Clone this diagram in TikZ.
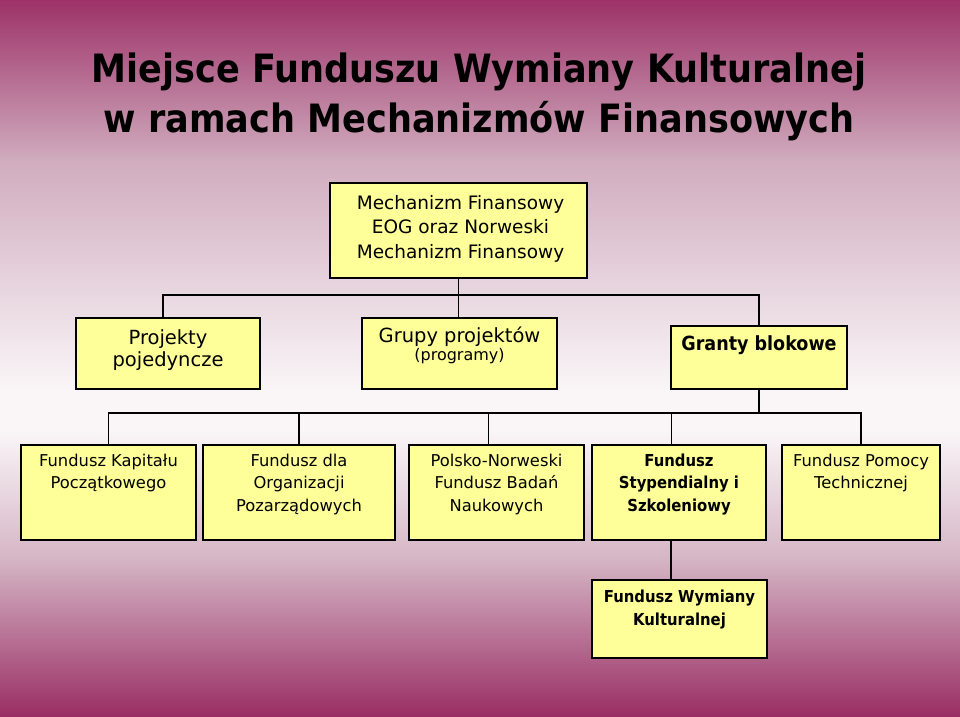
\documentclass[tikz,border=0pt]{standalone}
\usepackage{fontspec}
\setmainfont{DejaVu Sans}
\newfontfamily\condbold{DejaVu Sans Condensed Bold}
\definecolor{magtop}{RGB}{157,50,104}
\definecolor{lightA}{RGB}{208,172,190}
\definecolor{whiteish}{RGB}{250,246,248}
\definecolor{lightB}{RGB}{212,180,196}
\definecolor{magbot}{RGB}{154,46,100}
\definecolor{boxfill}{RGB}{255,255,153}
\newcommand{\firstline}{\rule{0pt}{20pt}}
\tikzset{
  orgbox/.style={draw=black, line width=1.8pt, fill=boxfill, inner sep=0pt, anchor=center},
  boxtext/.style={inner sep=0pt, anchor=north, align=center, font=\fontsize{16.3}{22.5}\selectfont},
  conn/.style={draw=black, line width=1.4pt}
}
\begin{document}
\begin{tikzpicture}[x=1pt,y=-1pt]
% background bands
\useasboundingbox (0,0) rectangle (960,716);
\shade[top color=magtop, bottom color=lightA] (0,0) rectangle (960,161);
\shade[top color=lightA, bottom color=whiteish] (0,160) rectangle (960,391);
\fill[whiteish] (0,390) rectangle (960,431);
\shade[top color=whiteish, bottom color=lightB] (0,430) rectangle (960,561);
\shade[top color=lightB, bottom color=magbot] (0,560) rectangle (960,716);

% title
\node[inner sep=0pt, anchor=north, align=center, font=\fontsize{39}{50}\selectfont\condbold] (title) at (479,42)
  {\rule{0pt}{40pt}Miejsce Funduszu Wymiany Kulturalnej\\w ramach Mechanizmów Finansowych};

% boxes
\node[orgbox, minimum width=257pt, minimum height=95pt] (top) at (458.5,230.5) {};
\node[orgbox, minimum width=184pt, minimum height=71pt] (pp) at (168,353.5) {};
\node[orgbox, minimum width=195pt, minimum height=71pt] (gp) at (459.5,353.5) {};
\node[orgbox, minimum width=176pt, minimum height=63pt] (gb) at (759,357.5) {};
\node[orgbox, minimum width=175pt, minimum height=95pt] (f1) at (108.5,492.5) {};
\node[orgbox, minimum width=192pt, minimum height=95pt] (f2) at (299,492.5) {};
\node[orgbox, minimum width=175pt, minimum height=95pt] (f3) at (496.5,492.5) {};
\node[orgbox, minimum width=174pt, minimum height=95pt] (f4) at (679,492.5) {};
\node[orgbox, minimum width=158pt, minimum height=95pt] (f5) at (861,492.5) {};
\node[orgbox, minimum width=175pt, minimum height=78pt] (wk) at (679.5,619) {};

% box texts
\node[boxtext, font=\fontsize{18.5}{24.5}\selectfont, yshift=-7pt] (top-t) at ([xshift=2pt]top.north)
  {\firstline Mechanizm Finansowy\\EOG oraz Norweski\\Mechanizm Finansowy};
\node[boxtext, font=\fontsize{19.5}{22}\selectfont, yshift=-7pt] (pp-t) at (pp.north)
  {\firstline Projekty\\pojedyncze};
\node[boxtext, font=\fontsize{19.5}{18}\selectfont, yshift=-5pt] (gp-t) at (gp.north)
  {\firstline Grupy projektów\\{\fontsize{16}{18}\selectfont(programy)}};
\node[boxtext, font=\fontsize{19.5}{22}\selectfont\condbold, yshift=-5pt] (gb-t) at (gb.north)
  {\firstline Granty blokowe};
\node[boxtext, yshift=-2pt] (f1-t) at (f1.north) {\firstline Fundusz Kapitału\\Początkowego};
\node[boxtext, yshift=-2pt] (f2-t) at (f2.north) {\firstline Fundusz dla\\Organizacji\\Pozarządowych};
\node[boxtext, yshift=-2pt] (f3-t) at (f3.north) {\firstline Polsko-Norweski\\Fundusz Badań\\Naukowych};
\node[boxtext, font=\fontsize{16.5}{22.5}\selectfont\condbold, yshift=-2pt] (f4-t) at (f4.north) {\firstline Fundusz\\Stypendialny i\\Szkoleniowy};
\node[boxtext, yshift=-2pt] (f5-t) at (f5.north) {\firstline Fundusz Pomocy\\Technicznej};
\node[boxtext, font=\fontsize{16.5}{22.5}\selectfont\condbold, yshift=-3.3pt] (wk-t) at (wk.north) {\firstline Fundusz Wymiany\\Kulturalnej};

% connectors level 1
\coordinate (j1) at (458.5,295);
\draw[conn] (top.south) -- (j1);
\draw[conn] ([xshift=-5pt]pp.north) |- (j1) -| (gb.north);
\draw[conn] (j1) -- (j1 |- gp.north);

% connectors level 2
\coordinate (j2) at (759,413);
\draw[conn] (gb.south) -- (j2);
\draw[conn] (f1.north) |- (j2) -| (f5.north);
\draw[conn] (f2.north) -- (f2.north |- j2);
\draw[conn] ([xshift=-8pt]f3.north) -- ([xshift=-8pt]f3.north |- j2);
\draw[conn] ([xshift=-7.5pt]f4.north) -- ([xshift=-7.5pt]f4.north |- j2);

% connector level 3
\draw[conn] ([xshift=-8pt]f4.south) -- ([xshift=-8.5pt]wk.north);
\end{tikzpicture}
\end{document}
